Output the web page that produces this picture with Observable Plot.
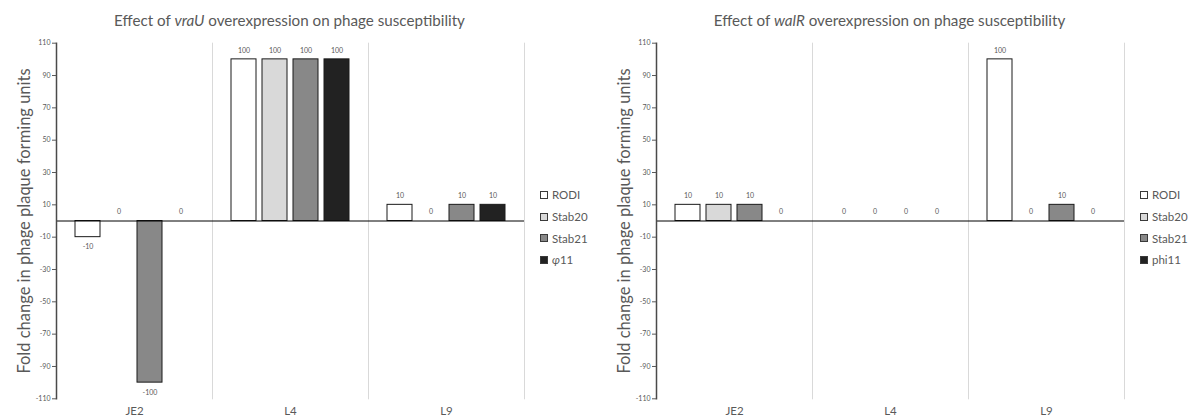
<!DOCTYPE html>
<html>
<head>
<meta charset="utf-8">
<script src="https://cdn.jsdelivr.net/npm/d3@7"></script>
<script src="https://cdn.jsdelivr.net/npm/@observablehq/plot@0.6"></script>
<style>
  body { margin: 0; background: #fff; font-family: Lato, "Open Sans", sans-serif; }
  #root { position: relative; width: 1195px; height: 419px; overflow: hidden; background: #fff; }
  .panel { position: absolute; top: 0; height: 419px; }
  .title { height: 34px; box-sizing: border-box; padding-top: 12px; line-height: 17px; font-size: 15.2px; color: #595959; text-align: center; white-space: nowrap; }
  .legend { position: absolute; left: 540px; top: 184px; font-size: 11.5px; color: #595959; }
  .legend .item { height: 21.7px; display: flex; align-items: center; white-space: nowrap; }
  .legend .sw { width: 6px; height: 6px; border: 1px solid #3a3a3a; margin-right: 4px; flex: none; }
  svg { display: block; }
</style>
</head>
<body>
<div id="root"></div>
<script>
const strains = ["JE2", "L4", "L9"];
const series = ["RODI", "Stab20", "Stab21", "phi11"];
const seriesColors = ["#ffffff", "#d9d9d9", "#888888", "#222222"];
const legendLabelsVraU = ["RODI", "Stab20", "Stab21", "<i>φ</i>11"];
const legendLabelsWalR = ["RODI", "Stab20", "Stab21", "phi11"];
// values per strain, in series order
const vraUValues = [[-10, 0, -100, 0], [100, 100, 100, 100], [10, 0, 10, 10]];
const walRValues = [[10, 10, 10, 0], [0, 0, 0, 0], [100, 0, 10, 0]];
const yTicks = [110, 90, 70, 50, 30, 10, -10, -30, -50, -70, -90, -110];
const yLabel = "Fold change in phage plaque forming units";

function rows(values) {
  const out = [];
  strains.forEach((s, i) => series.forEach((k, j) => out.push({strain: s, series: k, value: values[i][j]})));
  return out;
}

function panel(left, width, gene, values, legendLabels) {
  const div = document.createElement("div");
  div.className = "panel";
  div.style.left = left + "px";
  div.style.width = width + "px";
  const title = document.createElement("div");
  title.className = "title";
  title.style.paddingLeft = "55px";
  title.style.width = "524px";
  title.innerHTML = `Effect of <i>${gene}</i> overexpression on phage susceptibility`;
  div.appendChild(title);

  const data = rows(values);
  const chart = Plot.plot({
    width: width,
    height: 385,
    marginLeft: 55,
    marginRight: width - 524,
    marginTop: 8.7,
    marginBottom: 20.7,
    style: {fontFamily: "Lato, 'Open Sans', sans-serif", color: "#595959", background: "#fff"},
    fx: {domain: strains, padding: 0, label: null},
    x: {domain: series, paddingInner: 0.2, paddingOuter: 0.6, axis: null},
    y: {domain: [-110, 110], axis: null},
    color: {domain: series, range: seriesColors},
    marks: [
      Plot.frame({anchor: "right", stroke: "#d9d9d9", strokeWidth: 1}),
      Plot.barY(data, {fx: "strain", x: "series", y: "value", fill: "series", stroke: "#1a1a1a", strokeWidth: 1}),
      Plot.ruleY([0], {stroke: "#000", strokeWidth: 1}),
      Plot.frame({anchor: "left", facetAnchor: "left", stroke: "#4a4a4a", strokeWidth: 1.5}),
      Plot.axisY({ticks: yTicks, tickSize: 4, tickPadding: 2, fontSize: 7, stroke: "#595959", tickFormat: d => String(d), label: null}),
      Plot.axisFx({anchor: "bottom", tickSize: 0, tickPadding: 8, fontSize: 11.5, label: null}),
      Plot.text(data.filter(d => d.value >= 0), {fx: "strain", x: "series", y: "value", text: d => String(d.value), dy: -9, fontSize: 7, fill: "#595959"}),
      Plot.text(data.filter(d => d.value < 0), {fx: "strain", x: "series", y: "value", text: d => String(d.value), dy: 10, fontSize: 7, fill: "#595959"}),
      Plot.text([yLabel], {frameAnchor: "left", facetAnchor: "left", textAnchor: "middle", rotate: -90, dx: -32, fontSize: 16.5, fill: "#595959"})
    ]
  });
  div.appendChild(chart);

  const legend = document.createElement("div");
  legend.className = "legend";
  series.forEach((k, j) => {
    const it = document.createElement("div");
    it.className = "item";
    it.innerHTML = `<span class="sw" style="background:${seriesColors[j]}"></span><span>${legendLabels[j]}</span>`;
    legend.appendChild(it);
  });
  div.appendChild(legend);
  document.getElementById("root").appendChild(div);
}

panel(0, 600, "vraU", vraUValues, legendLabelsVraU);
panel(600, 595, "walR", walRValues, legendLabelsWalR);
</script>
</body>
</html>
